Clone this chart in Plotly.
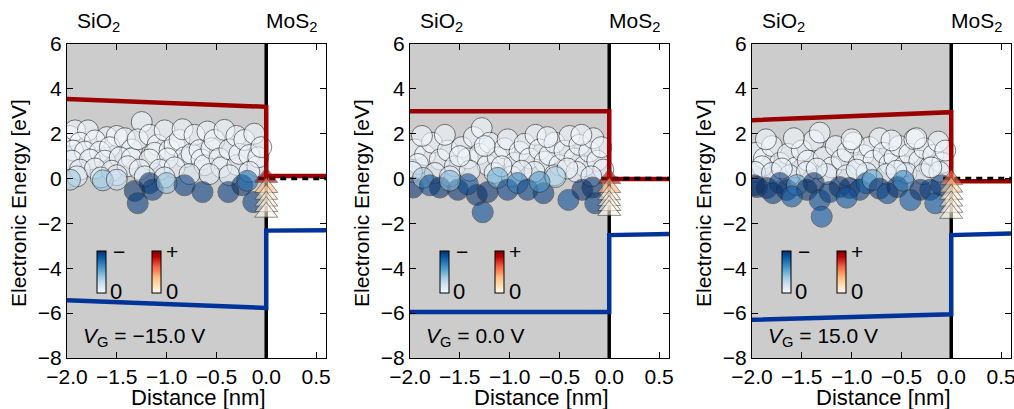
import plotly.graph_objects as go

W, H = 1014, 409
FONT = "Liberation Sans, Arial, sans-serif"

# ---------------- data ----------------
x_ticks = [-2.0, -1.5, -1.0, -0.5, 0.0, 0.5]
y_ticks = [-8, -6, -4, -2, 0, 2, 4, 6]
gate_voltages = ["−15.0", "0.0", "15.0"]

band_x = [-2.0, 0.0, 0.0, 0.6]
cond_band_1 = [3.55, 3.2, 0.12, 0.12]
cond_band_2 = [3.0, 3.0, -0.02, -0.02]
cond_band_3 = [2.6, 2.96, -0.12, -0.12]
val_band_1 = [-5.42, -5.77, -2.32, -2.3]
val_band_2 = [-5.95, -5.95, -2.52, -2.47]
val_band_3 = [-6.3, -6.05, -2.52, -2.45]
fermi_x = [-0.08, 0.6]
fermi_y = [0.0, 0.0]

# trap states in SiO2 (x [nm], energy [eV], charge magnitude)
trap_x_1 = [-1.97, -1.92, -1.79, -1.6, -1.87, -1.72, -1.5, -1.94, -1.82, -1.67, -1.57, -1.42, -1.35,
            -1.95, -1.77, -1.62, -1.47, -1.35, -1.87, -1.72, -1.55, -1.39, -1.25, -1.29, -1.17, -1.09,
            -1.12, -1.02, -0.97, -0.92, -0.87, -0.84, -0.82, -0.99, -1.17, -1.27, -1.07, -0.92, -0.75,
            -0.72, -0.67, -0.65, -0.62, -0.59, -0.55, -0.52, -0.47, -0.45, -0.42, -0.37, -0.3, -0.29,
            -0.27, -0.22, -0.17, -0.12, -0.09, -0.08, -0.05, -0.77, -0.57, -0.37, -0.17, -1.5, -1.66,
            -1.22, -1.02, -1.9,
            -1.97, -1.64, -1.5, -1.32, -1.29, -1.17, -1.14, -1.0, -0.82, -0.64, -0.38, -0.24, -0.19, -0.13]
trap_y_1 = [1.9, 2.15, 2.15, 1.85, 1.6, 1.7, 1.9, 1.25, 1.2, 1.2, 1.4, 1.8, 1.3,
            0.8, 0.85, 0.8, 0.95, 0.9, 0.4, 0.45, 0.35, 0.55, 2.52, 1.75, 1.95, 1.5,
            1.15, 2.15, 1.27, 1.5, 1.72, 2.2, 0.95, 0.9, 0.85, 0.4, 0.4, 0.5, 1.1,
            1.95, 1.27, 0.85, 0.6, 2.1, 1.35, 1.72, 0.9, 0.5, 2.17, 1.3, 1.9, 0.6,
            1.1, 1.72, 1.05, 2.0, 0.55, 0.95, 1.4, 0.2, 0.2, 0.15, 0.3, 0.15, 0.05,
            0.1, 0.05, 0.1,
            -0.05, -0.08, -0.05, -0.55, -1.1, -0.2, -0.5, -0.2, -0.3, -0.6, -0.6, -0.3, -0.1, -1.05]
trap_c_1 = [.02, .01, .01, .02, .02, .01, .01, .03, .03, .03, .02, .01, .03,
            .05, .04, .06, .04, .04, .08, .07, .08, .06, .01, .02, .01, .02,
            .03, .01, .03, .02, .01, .01, .04, .04, .04, .07, .08, .06, .04,
            .01, .03, .04, .06, .01, .03, .02, .04, .07, .01, .03, .02, .06,
            .04, .02, .04, .01, .06, .04, .03, .1, .11, .1, .08, .1, .12,
            .11, .12, .1,
            .35, .4, .25, 1.0, .95, 1.0, .95, .4, .95, .95, .95, 1.0, .75, .95]

trap_x_2 = [-1.95, -1.85, -1.78, -1.7, -1.62, -1.55, -1.92, -1.48, -1.42, -1.36, -1.28, -1.3, -1.22,
            -1.2, -1.12, -1.05, -1.02, -0.95, -0.9, -0.85, -0.8, -0.74, -0.7, -0.65, -0.6, -0.55,
            -0.5, -0.45, -0.4, -0.35, -0.3, -0.25, -0.2, -0.16, -0.12, -0.08, -0.06, -1.98, -1.75,
            -1.6, -1.4, -1.15, -0.98, -0.75, -0.55, -0.33, -0.18, -1.88, -1.65, -0.62, -0.28, -1.08,
            -0.88, -0.42, -1.5, -1.25,
            -1.97, -1.87, -1.8, -1.7, -1.52, -1.33, -1.27, -1.22, -1.12, -1.02, -0.92, -0.82, -0.66,
            -0.54, -0.41, -0.27, -0.17, -0.14, -1.42, -0.7, -1.6]
trap_y_2 = [1.3, 1.05, 1.6, 0.85, 1.25, 0.55, 0.65, 1.4, 0.9, 1.85, 2.25, 1.1, 0.6,
            1.6, 0.95, 1.35, 1.75, 0.7, 1.2, 1.55, 0.9, 1.95, 1.3, 0.75, 1.05, 1.6,
            0.6, 1.25, 1.9, 0.9, 1.5, 0.55, 1.2, 1.8, 0.8, 1.4, 0.4, 0.3, 0.25,
            0.1, 0.35, 0.25, 0.1, 0.3, 0.15, 0.3, 0.1, 1.9, 1.95, 1.85, 1.95, 0.55,
            0.35, 0.45, 1.0, 1.45,
            -0.4, 0.03, -0.3, -0.4, -0.5, -0.73, -1.5, -0.6, 0.03, -0.5, -0.2, -0.5, -0.65,
            0.07, -0.95, -0.5, -0.4, -1.1, -0.25, -0.15, -0.1]
trap_c_2 = [.02, .03, .02, .04, .03, .06, .05, .02, .04, .01, .01, .03, .05,
            .02, .04, .03, .02, .05, .03, .02, .04, .01, .03, .04, .04, .02,
            .05, .03, .01, .04, .02, .05, .03, .01, .04, .02, .06, .08, .09,
            .11, .08, .09, .1, .08, .1, .08, .1, .01, .01, .01, .01, .05,
            .08, .06, .04, .02,
            1.0, .35, .9, 1.0, 1.0, 1.0, .9, 1.0, .5, .95, .7, .95, .95,
            .35, .9, 1.0, 1.0, .95, .9, .6, .45]

trap_x_3 = [-1.96, -1.88, -1.8, -1.72, -1.64, -1.56, -1.9, -1.5, -1.44, -1.38, -1.32, -1.28, -1.2,
            -1.16, -1.1, -1.04, -0.98, -0.93, -0.88, -0.82, -0.78, -0.72, -0.68, -0.62, -0.57, -0.52,
            -0.47, -0.42, -0.37, -0.32, -0.27, -0.22, -0.18, -0.13, -0.09, -0.06, -1.97, -1.8,
            -1.62, -1.45, -1.25, -1.05, -0.85, -0.65, -0.45, -0.28, -0.12, -1.86, -1.58, -1.0,
            -0.6, -0.35, -1.7, -1.35, -0.95, -0.55, -0.2,
            -1.98, -1.95, -1.85, -1.79, -1.72, -1.65, -1.55, -1.45, -1.38, -1.32, -1.3, -1.22, -1.12,
            -1.02, -0.92, -0.85, -0.79, -0.72, -0.64, -0.54, -0.48, -0.41, -0.31, -0.21, -0.16, -0.1,
            -1.6, -1.05]
trap_y_3 = [1.15, 0.9, 1.45, 0.7, 1.1, 0.5, 0.55, 1.25, 0.8, 1.7, 2.05, 0.95, 0.5,
            1.45, 0.85, 1.2, 1.6, 0.6, 1.05, 1.4, 0.8, 1.8, 1.15, 0.65, 0.95, 1.45,
            0.55, 1.1, 1.75, 0.8, 1.35, 0.5, 1.05, 1.65, 0.7, 1.25, 0.3, 0.25,
            0.15, 0.3, 0.2, 0.15, 0.25, 0.2, 0.25, 0.2, 0.3, 1.75, 1.8, 1.75,
            1.7, 1.8, 0.45, 0.45, 0.4, 0.35, 0.5,
            -0.3, -0.38, -0.42, -0.65, -0.2, -0.51, -0.29, -0.5, -0.2, -0.96, -1.7, -0.6, -0.38,
            -0.42, -0.5, -0.2, -0.06, -0.45, -0.65, -0.38, -0.1, -0.96, -0.5, -0.5, -1.1, -0.3,
            -0.8, -0.85]
trap_c_3 = [.02, .03, .02, .04, .03, .06, .05, .02, .04, .01, .01, .03, .05,
            .02, .04, .03, .02, .05, .03, .02, .04, .01, .03, .04, .04, .02,
            .05, .03, .01, .04, .02, .05, .03, .01, .04, .02, .08, .09,
            .11, .08, .1, .1, .09, .1, .09, .1, .08, .01, .01, .01,
            .01, .01, .06, .06, .07, .07, .06,
            1.0, 1.0, 1.0, .95, .95, 1.0, .55, 1.0, 1.0, .9, .85, .95, 1.0,
            1.0, .95, .85, .5, 1.0, .9, 1.0, .7, .85, 1.0, .95, .85, .95,
            .85, .85]

# positive charge states at the interface
iface_x = [0.0, 0.0, 0.0, 0.0, 0.0, 0.0]
iface_y_1 = [0.05, -0.4, -0.7, -1.0, -1.25, -1.5]
iface_c_1 = [0.9, 0.35, 0.15, 0.08, 0.04, 0.02]
iface_y_2 = [0.0, -0.4, -0.72, -0.98, -1.2, -1.42]
iface_c_2 = [0.85, 0.4, 0.12, 0.07, 0.04, 0.02]
iface_y_3 = [-0.05, -0.38, -0.7, -1.0, -1.28, -1.55]
iface_c_3 = [0.55, 0.28, 0.12, 0.07, 0.04, 0.02]

panels = [
    (trap_x_1, trap_y_1, trap_c_1, iface_y_1, iface_c_1, cond_band_1, val_band_1),
    (trap_x_2, trap_y_2, trap_c_2, iface_y_2, iface_c_2, cond_band_2, val_band_2),
    (trap_x_3, trap_y_3, trap_c_3, iface_y_3, iface_c_3, cond_band_3, val_band_3),
]

# ---------------- styling ----------------
BLUES = [[0, "#f7fbff"], [0.125, "#deebf7"], [0.25, "#c6dbef"], [0.375, "#9ecae1"], [0.5, "#6baed6"],
         [0.625, "#4292c6"], [0.75, "#2171b5"], [0.875, "#08519c"], [1, "#08306b"]]
ORRD = [[0, "#fff7ec"], [0.125, "#fee8c8"], [0.25, "#fdd49e"], [0.375, "#fdbb84"], [0.5, "#fc8d59"],
        [0.625, "#ef6548"], [0.75, "#d7301f"], [0.875, "#b30000"], [1, "#7f0000"]]
RED = "#9b0000"
BLUE = "#00339a"

panel_left_px = [67, 410, 752]
panel_w_px = 259
top_px, bot_px = 44, 358


def px(xp):
    return xp / W


def py(yp):
    return 1 - yp / H


fig = go.Figure()
layout = dict(template=go.layout.Template(),
              width=W, height=H, margin=dict(l=0, r=0, t=0, b=0, pad=0, autoexpand=False),
              autosize=False,
              paper_bgcolor="white", plot_bgcolor="white", showlegend=False,
              font=dict(family=FONT, size=20, color="black"))
annotations = []
shapes = []

for i, (tx, ty, tc, iy, ic, cb, vb) in enumerate(panels):
    n = i + 1
    xa = "x" if n == 1 else f"x{n}"
    ya = "y" if n == 1 else f"y{n}"
    ca_b = "coloraxis" if n == 1 else f"coloraxis{2 * n - 1}"
    ca_r = f"coloraxis{2 * n}"
    L = panel_left_px[i]

    fig.add_trace(go.Scatter(x=tx, y=ty, mode="markers", xaxis=xa, yaxis=ya,
                             marker=dict(size=21, color=tc, coloraxis=ca_b, opacity=0.58,
                                         line=dict(color="#2a2a2a", width=1))))
    fig.add_trace(go.Scatter(x=band_x, y=cb, mode="lines", xaxis=xa, yaxis=ya,
                             line=dict(color=RED, width=4.5)))
    fig.add_trace(go.Scatter(x=band_x, y=vb, mode="lines", xaxis=xa, yaxis=ya,
                             line=dict(color=BLUE, width=4.5)))
    fig.add_trace(go.Scatter(x=fermi_x, y=fermi_y, mode="lines", xaxis=xa, yaxis=ya,
                             line=dict(color="black", width=3.5, dash="6px,5px")))
    fig.add_trace(go.Scatter(x=iface_x, y=iy, mode="markers", xaxis=xa, yaxis=ya,
                             marker=dict(symbol="triangle-up", size=20, color=ic, coloraxis=ca_r,
                                         opacity=0.6, line=dict(color="#444", width=1))))

    axis_common = dict(showline=True, linecolor="black", linewidth=1, mirror="ticks", ticks="inside",
                       ticklen=6, tickwidth=1, tickcolor="black", showgrid=False, zeroline=False,
                       automargin=False, ticklabeloverflow="allow",
                       tickfont=dict(family=FONT, size=21, color="black"))
    layout["xaxis" if n == 1 else f"xaxis{n}"] = dict(
        domain=[px(L), px(L + panel_w_px)], range=[-2.0, 0.6], tickvals=x_ticks, tickformat=".1f",
        anchor=ya, **axis_common)
    layout["yaxis" if n == 1 else f"yaxis{n}"] = dict(
        domain=[py(bot_px), py(top_px)], range=[-8, 6], tickvals=y_ticks, tickformat="d",
        anchor=xa, **axis_common)

    cb_y = py(272)
    for key, cs, off in ((ca_b, BLUES, 30), (ca_r, ORRD, 85)):
        layout[key] = dict(cmin=0, cmax=1, colorscale=cs,
                           colorbar=dict(thickness=9, thicknessmode="pixels", len=42, lenmode="pixels",
                                         x=px(L + off), xanchor="left", y=cb_y, yanchor="middle",
                                         showticklabels=False, ticks="", outlinewidth=1,
                                         outlinecolor="black", xpad=0, ypad=0))

    shapes.append(dict(type="rect", xref=xa, yref=ya, x0=-2.0, x1=0.0, y0=-8, y1=6,
                       fillcolor="#cccccc", line=dict(width=0), layer="below"))
    shapes.append(dict(type="line", xref=xa, yref=ya, x0=0.0, x1=0.0, y0=-8, y1=6,
                       line=dict(color="black", width=3.5), layer="below"))

    def ann(text, xp, yp, size=20, xanchor="center", angle=0):
        annotations.append(dict(text=text, x=px(xp), y=py(yp), xref="paper", yref="paper",
                                showarrow=False, xanchor=xanchor, yanchor="middle", textangle=angle,
                                font=dict(family=FONT, size=size, color="black")))

    ann("−", L + 52, 252, 21)
    ann("0", L + 49, 291, 22)
    ann("+", L + 105, 252, 21)
    ann("0", L + 105, 291, 22)
    ann(f"<i>V</i><sub>G</sub> = {gate_voltages[i]} V", L + 14, 337, 21, xanchor="left")
    ann("SiO<sub>2</sub>", L + 31, 22, 21)
    ann("MoS<sub>2</sub>", L + 224, 22, 21)
    ann("Distance [nm]", L + 131, 397, 22)
    ann("Electronic Energy [eV]", L - 49, 203, 21, angle=-90)

layout["annotations"] = annotations
layout["shapes"] = shapes
fig.update_layout(**layout)
fig.write_html("out.html", config={"displayModeBar": False},
               post_script="document.body.style.margin='0px';")
